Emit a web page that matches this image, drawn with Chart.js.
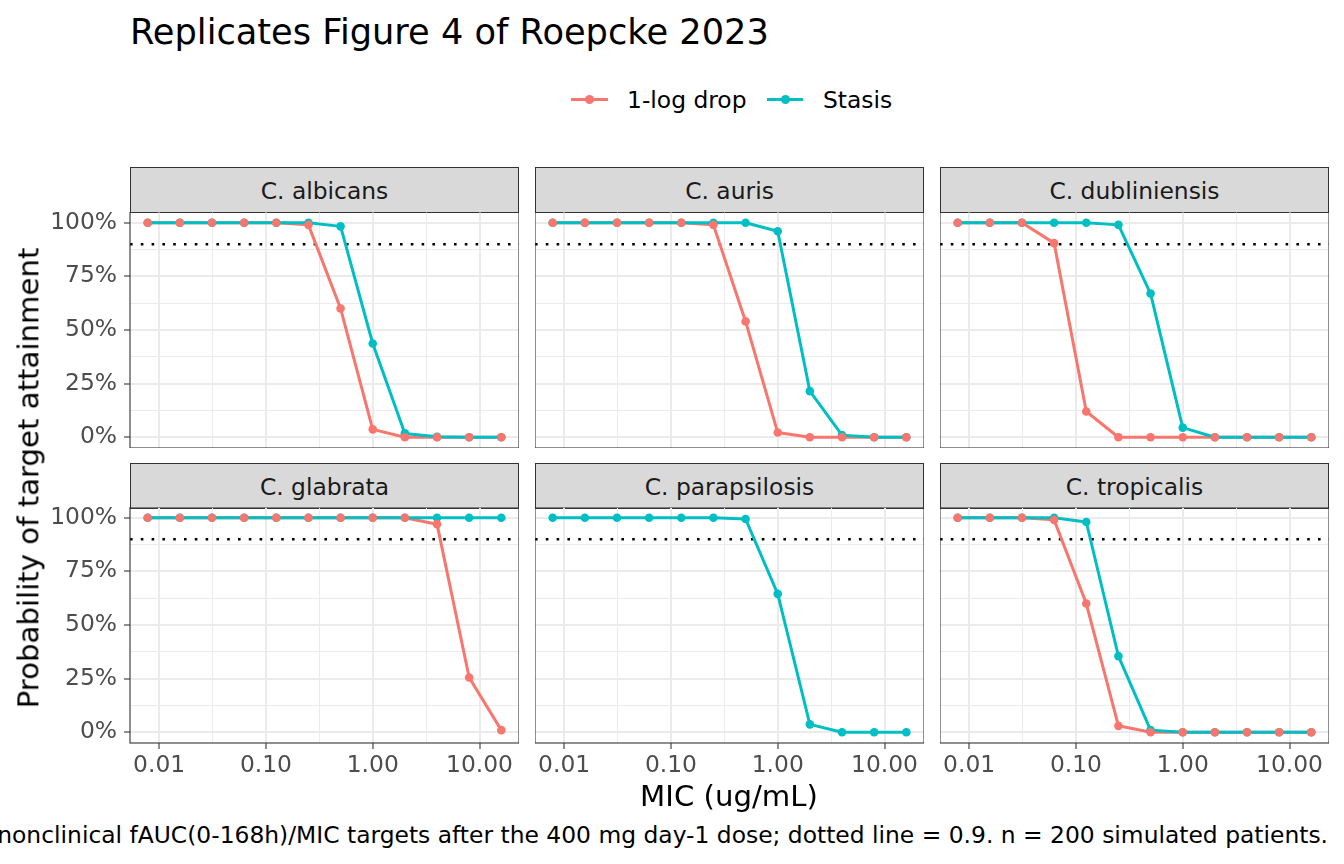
<!DOCTYPE html>
<html lang="en">
<head>
    <meta charset="UTF-8">
    <title>Replicates Figure 4 of Roepcke 2023</title>
    <script src="https://cdn.jsdelivr.net/npm/chart.js"></script>
    <style>
        html, body { margin: 0; padding: 0; background: #fff; }
        body { width: 1344px; height: 864px; position: relative; overflow: hidden;
               font-family: "DejaVu Sans", sans-serif; }
        .txt { position: absolute; white-space: nowrap; line-height: 1; }
        .strip { position: absolute; background: #D9D9D9; border: 1.1px solid #333;
                 box-sizing: border-box; }
        .strip span { position: absolute; left: 0; right: 0; text-align: center;
                      font-size: 23.4px; line-height: 1; color: #1A1A1A; }
        canvas { position: absolute; }
        .key { position: absolute; height: 3px; }
        .key i { position: absolute; width: 9px; height: 9px; border-radius: 50%;
                 left: 50%; top: 50%; margin: -4.5px 0 0 -4.5px; }
    </style>
</head>
<body>

<div class="txt" style="left:130px; top:14.4px; font-size:35.2px; color:#000;">Replicates Figure 4 of Roepcke 2023</div>

<!-- leyenda -->
<div class="key" style="left:571px; top:98px; width:37px; background:#F8766D;"><i style="background:#F8766D"></i></div>
<div class="txt" style="left:627px; top:88.5px; font-size:23.4px;">1-log drop</div>
<div class="key" style="left:767px; top:98px; width:36px; background:#00BFC4;"><i style="background:#00BFC4"></i></div>
<div class="txt" style="left:823px; top:88.5px; font-size:23.4px;">Stasis</div>

<div id="paneles"></div>

<div class="txt" style="left:29px; top:478px; font-size:29.2px; transform: translate(-50%, -50%) rotate(-90deg);">Probability of target attainment</div>
<div class="txt" style="left:729px; top:782px; font-size:29.2px; transform: translateX(-50%);">MIC (ug/mL)</div>
<div class="txt" style="right:16px; top:823.5px; font-size:23.4px;">nonclinical fAUC(0-168h)/MIC targets after the 400 mg day-1 dose; dotted line = 0.9. n = 200 simulated patients.</div>

<script>
    // MIC (ug/mL)
    const mic = [0.0078125, 0.015625, 0.03125, 0.0625, 0.125, 0.25, 0.5, 1, 2, 4, 8, 16];

    const species = ['C. albicans', 'C. auris', 'C. dubliniensis', 'C. glabrata', 'C. parapsilosis', 'C. tropicalis'];

    // PTA por especie: 1-log drop / stasis
    const albicansDrop   = [1, 1, 1, 1, 1, 0.99, 0.60, 0.037, 0, 0, 0, 0];
    const albicansStasis = [1, 1, 1, 1, 1, 1, 0.983, 0.437, 0.018, 0.002, 0, 0];
    const aurisDrop      = [1, 1, 1, 1, 1, 0.99, 0.54, 0.022, 0, 0, 0, 0];
    const aurisStasis    = [1, 1, 1, 1, 1, 1, 1, 0.96, 0.215, 0.01, 0, 0];
    const dublinDrop     = [1, 1, 1, 0.905, 0.12, 0, 0, 0, 0, 0, 0, 0];
    const dublinStasis   = [1, 1, 1, 1, 1, 0.99, 0.67, 0.045, 0, 0, 0, 0];
    const glabrataDrop   = [1, 1, 1, 1, 1, 1, 1, 1, 1, 0.97, 0.255, 0.01];
    const glabrataStasis = [1, 1, 1, 1, 1, 1, 1, 1, 1, 1, 1, 1];
    const paraDrop       = [];   // sin datos de 1-log drop
    const paraStasis     = [1, 1, 1, 1, 1, 1, 0.994, 0.645, 0.037, 0, 0, 0];
    const tropDrop       = [1, 1, 1, 0.99, 0.60, 0.03, 0, 0, 0, 0, 0, 0];
    const tropStasis     = [1, 1, 1, 1, 0.98, 0.355, 0.01, 0, 0, 0, 0, 0];

    const dropSeries   = [albicansDrop, aurisDrop, dublinDrop, glabrataDrop, paraDrop, tropDrop];
    const stasisSeries = [albicansStasis, aurisStasis, dublinStasis, glabrataStasis, paraStasis, tropStasis];

    // ejes
    const xMajor = [0.01, 0.1, 1, 10];
    const xLabels = ['0.01', '0.10', '1.00', '10.00'];
    const xMinor = [Math.pow(10, -1.5), Math.pow(10, -0.5), Math.pow(10, 0.5)];
    const yMajor = [0, 0.25, 0.5, 0.75, 1];
    const yLabels = ['0%', '25%', '50%', '75%', '100%'];
    const yMinor = [0.125, 0.375, 0.625, 0.875];
    const target = 0.9;

    const RED = '#F8766D', CYAN = '#00BFC4';

    // layout (px)
    const colLeft = [130, 535, 940];
    const panelW = 389;
    const stripTop = [167, 463];
    const stripH = 45;
    const panelTop = [212, 507];
    const panelH = 236;
    const padL = 100, padB = 45;

    // rango con expansion 5% como ggplot
    const lmin = Math.log10(mic[0]), lmax = Math.log10(mic[mic.length - 1]);
    const lexp = (lmax - lmin) * 0.05;
    const xMin = Math.pow(10, lmin - lexp), xMax = Math.pow(10, lmax + lexp);

    const isMajorX = v => xMajor.some(m => Math.abs(Math.log10(v) - Math.log10(m)) < 1e-6);
    const isMajorY = v => yMajor.some(m => Math.abs(v - m) < 1e-6);

    const panelDecor = {
        id: 'panelDecor',
        beforeDatasetsDraw(chart) {
            const { ctx, chartArea: a, scales } = chart;
            const y = scales.y.getPixelForValue(target);
            ctx.save();
            ctx.strokeStyle = '#000';
            ctx.lineWidth = 2.6;
            ctx.setLineDash([2.6, 8.2]);
            ctx.beginPath();
            ctx.moveTo(a.left, y);
            ctx.lineTo(a.right, y);
            ctx.stroke();
            ctx.restore();
        },
        afterDraw(chart) {
            const { ctx, chartArea: a } = chart;
            ctx.save();
            ctx.strokeStyle = '#333';
            ctx.lineWidth = 1.1;
            ctx.strokeRect(a.left, a.top, a.right - a.left, a.bottom - a.top);
            ctx.restore();
        }
    };

    const cont = document.getElementById('paneles');

    species.forEach((name, i) => {
        const row = Math.floor(i / 3), col = i % 3;
        const leftAxis = col === 0, bottomAxis = row === 1;

        const strip = document.createElement('div');
        strip.className = 'strip';
        strip.style.left = colLeft[col] + 'px';
        strip.style.top = stripTop[row] + 'px';
        strip.style.width = panelW + 'px';
        strip.style.height = (stripH + 1) + 'px';
        strip.innerHTML = `<span style="top:11.5px">${name}</span>`;
        cont.appendChild(strip);

        const w = panelW + (leftAxis ? padL : 0);
        const h = panelH + (bottomAxis ? padB : 0);
        const canvas = document.createElement('canvas');
        canvas.width = w;
        canvas.height = h;
        canvas.style.width = w + 'px';
        canvas.style.height = h + 'px';
        canvas.style.left = (colLeft[col] - (leftAxis ? padL : 0)) + 'px';
        canvas.style.top = panelTop[row] + 'px';
        cont.appendChild(canvas);

        const drop = dropSeries[i].map((v, k) => ({ x: mic[k], y: v }));
        const stasis = stasisSeries[i].map((v, k) => ({ x: mic[k], y: v }));

        new Chart(canvas.getContext('2d'), {
            type: 'line',
            data: {
                datasets: [
                    { data: drop, borderColor: RED, borderWidth: 3, pointRadius: 0, order: 4 },
                    { data: stasis, borderColor: CYAN, borderWidth: 3, pointRadius: 0, order: 3 },
                    { data: stasis, showLine: false, pointRadius: 4.3, pointBorderWidth: 0,
                      pointBackgroundColor: CYAN, order: 2 },
                    { data: drop, showLine: false, pointRadius: 4.3, pointBorderWidth: 0,
                      pointBackgroundColor: RED, order: 1 }
                ]
            },
            options: {
                responsive: false,
                animation: false,
                events: [],
                layout: { padding: 0, autoPadding: false },
                plugins: { legend: { display: false }, tooltip: { enabled: false } },
                elements: { line: { tension: 0, borderJoinStyle: 'round' } },
                scales: {
                    x: {
                        type: 'logarithmic',
                        min: xMin, max: xMax,
                        border: { display: false },
                        grid: {
                            color: '#EBEBEB',
                            lineWidth: c => isMajorX(c.tick.value) ? 2 : 1,
                            drawTicks: bottomAxis,
                            tickLength: 6,
                            tickWidth: 1.1,
                            tickColor: c => isMajorX(c.tick.value) ? '#333' : 'rgba(0,0,0,0)'
                        },
                        ticks: {
                            display: bottomAxis,
                            autoSkip: false,
                            maxRotation: 0,
                            padding: 3,
                            color: '#4D4D4D',
                            font: { family: 'DejaVu Sans', size: 23.4 },
                            callback: v => {
                                const k = xMajor.findIndex(m => Math.abs(Math.log10(v) - Math.log10(m)) < 1e-6);
                                return k >= 0 ? xLabels[k] : '';
                            }
                        },
                        afterBuildTicks: s => {
                            s.ticks = [...xMajor, ...xMinor].sort((a, b) => a - b).map(v => ({ value: v }));
                        },
                        afterFit: s => {
                            s.height = bottomAxis ? padB : 0;
                            s.paddingLeft = 0; s.paddingRight = 0;
                        }
                    },
                    y: {
                        type: 'linear',
                        min: -0.05, max: 1.05,
                        border: { display: false },
                        grid: {
                            color: '#EBEBEB',
                            lineWidth: c => isMajorY(c.tick.value) ? 2 : 1,
                            drawTicks: leftAxis,
                            tickLength: 6,
                            tickWidth: 1.1,
                            tickColor: c => isMajorY(c.tick.value) ? '#333' : 'rgba(0,0,0,0)'
                        },
                        ticks: {
                            display: leftAxis,
                            autoSkip: false,
                            padding: 7,
                            color: '#4D4D4D',
                            font: { family: 'DejaVu Sans', size: 23.4 },
                            callback: v => {
                                const k = yMajor.findIndex(m => Math.abs(v - m) < 1e-6);
                                return k >= 0 ? yLabels[k] : '';
                            }
                        },
                        afterBuildTicks: s => {
                            s.ticks = [...yMajor, ...yMinor].sort((a, b) => a - b).map(v => ({ value: v }));
                        },
                        afterFit: s => {
                            s.width = leftAxis ? padL : 0;
                            s.paddingTop = 0; s.paddingBottom = 0;
                        }
                    }
                }
            },
            plugins: [panelDecor]
        });
    });
</script>
</body>
</html>
